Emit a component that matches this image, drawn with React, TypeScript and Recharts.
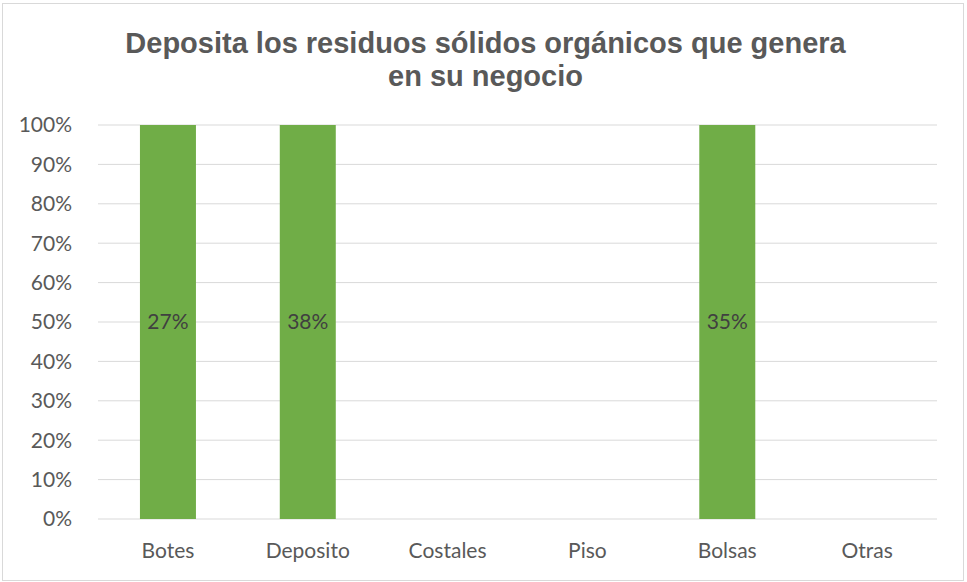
import React from 'react';
import { BarChart, Bar, XAxis, YAxis, CartesianGrid, LabelList } from 'recharts';

const categories = ['Botes', 'Deposito', 'Costales', 'Piso', 'Bolsas', 'Otras'];
const values = [27, 38, 0, 0, 35, 0];
const yTicks = [0, 0.1, 0.2, 0.3, 0.4, 0.5, 0.6, 0.7, 0.8, 0.9, 1];
const titleLines = ['Deposita los residuos sólidos orgánicos que genera', 'en su negocio'];

const data = categories.map((c, i) => ({ name: c, value: values[i] }));

const FONT = 'Lato, "Open Sans", sans-serif';
const TITLE_FONT = '"Liberation Sans", Arial, sans-serif';

export default function App() {
  return (
    <div style={{ position: 'absolute', left: 0, top: 0, width: 967, height: 582, background: '#fff', fontFamily: FONT }}>
      <div style={{ position: 'absolute', left: 2, top: 3, width: 962, height: 578, border: '1px solid #D9D9D9', boxSizing: 'border-box' }} />
      <div style={{ position: 'absolute', left: 0, top: 27, width: 971, textAlign: 'center', color: '#595959', fontWeight: 700, fontSize: 29, lineHeight: '33px', fontFamily: TITLE_FONT }}>
        {titleLines.map((t) => (
          <div key={t}>{t}</div>
        ))}
      </div>
      <div style={{ position: 'absolute', left: 0, top: 0 }}>
        <BarChart
          width={967}
          height={582}
          data={data}
          stackOffset="expand"
          margin={{ top: 125, right: 30, bottom: 23, left: 0 }}
          barCategoryGap="30%"
        >
          <CartesianGrid vertical={false} stroke="#D9D9D9" strokeWidth={1} />
          <XAxis
            dataKey="name"
            axisLine={false}
            tickLine={false}
            height={40}
            tickMargin={18}
            tick={{ fill: '#595959', fontSize: 21, fontFamily: FONT }}
            interval={0}
          />
          <YAxis
            width={98}
            domain={[0, 1]}
            ticks={yTicks}
            axisLine={false}
            tickLine={false}
            tickMargin={20}
            tickFormatter={(v: number) => `${Math.round(v * 100)}%`}
            tick={{ fill: '#595959', fontSize: 21, fontFamily: FONT }}
          />
          <Bar dataKey="value" stackId="a" fill="#70AD47" isAnimationActive={false}>
            <LabelList
              dataKey="value"
              position="center"
              formatter={(v: number) => (v ? `${v}%` : '')}
              fill="#404040"
              fontSize={21}
              fontFamily={FONT}
            />
          </Bar>
        </BarChart>
      </div>
    </div>
  );
}
